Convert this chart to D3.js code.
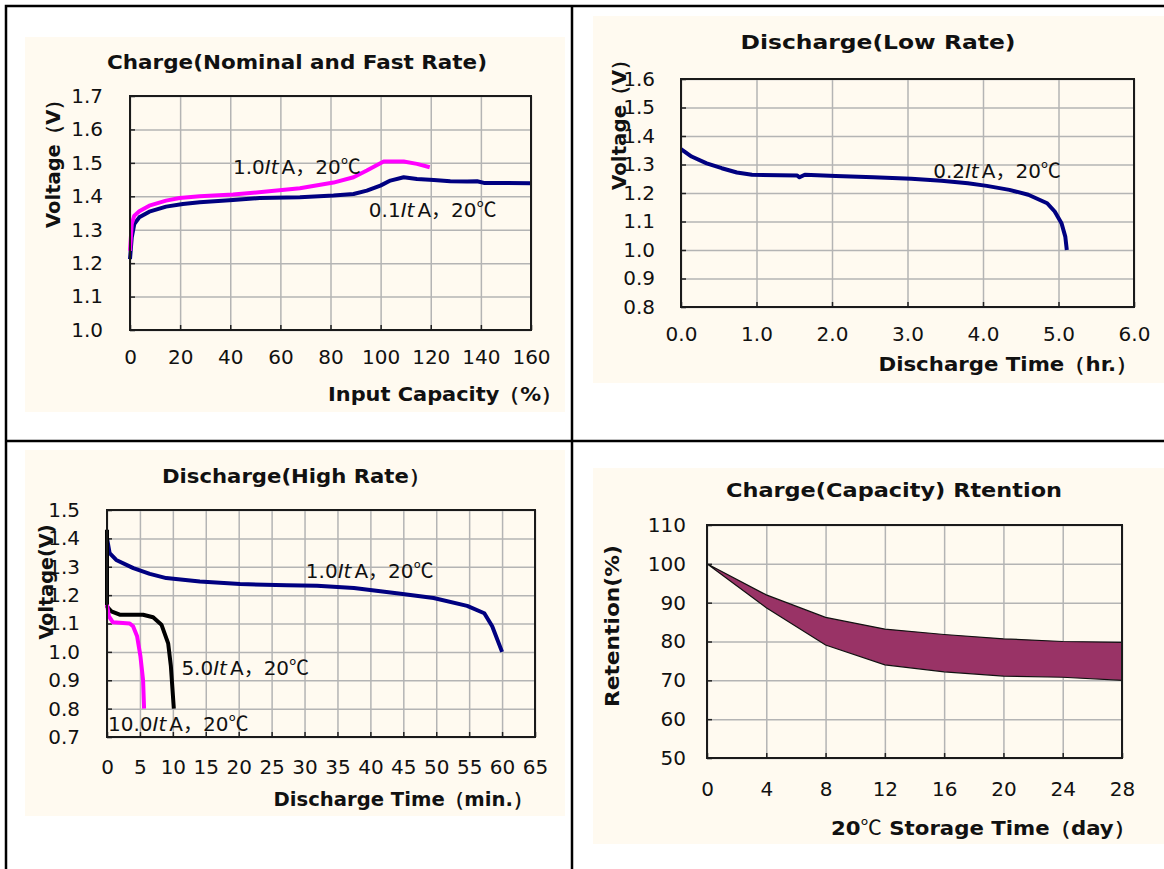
<!DOCTYPE html>
<html>
<head>
<meta charset="utf-8">
<script src="https://cdn.jsdelivr.net/npm/d3@7"></script>
<style>
body { margin: 0; background: #fff; }
text { font-family: Verdana, "DejaVu Sans", sans-serif; fill: #111; }
</style>
</head>
<body>
<div id="sheet"></div>
<script>
// ---- values ----

// Charge (Nominal and Fast Rate): input capacity (%) -> voltage (V)
const fastChargeCap  = [0, 0.7, 1.7, 3.7, 7.7, 14.4, 19.8, 27.8, 41.1, 54.5, 67.8, 81.2, 89.2, 94.5, 99.9, 101.2, 109.2, 114.5, 119.6];
const fastChargeVolt = [1.237, 1.317, 1.342, 1.355, 1.372, 1.387, 1.395, 1.400, 1.405, 1.414, 1.424, 1.441, 1.457, 1.477, 1.499, 1.504, 1.504, 1.497, 1.487];
const slowChargeCap  = [0, 0.7, 1.7, 3.7, 7.7, 14.4, 21.1, 27.8, 41.1, 51.8, 67.8, 81.2, 89.2, 94.5, 99.9, 103.9, 109.2, 114.5, 121.2, 127.8, 134.5, 138.5, 141.2, 160];
const slowChargeVolt = [1.212, 1.277, 1.317, 1.337, 1.354, 1.369, 1.377, 1.382, 1.389, 1.395, 1.397, 1.402, 1.407, 1.417, 1.432, 1.447, 1.457, 1.452, 1.449, 1.445, 1.444, 1.445, 1.440, 1.439];
const chargeXTicks = [0, 20, 40, 60, 80, 100, 120, 140, 160];
const chargeYTicks = [1.0, 1.1, 1.2, 1.3, 1.4, 1.5, 1.6, 1.7];

// Discharge (Low Rate): hours -> voltage
const lowRateHours = [0, 0.14, 0.34, 0.54, 0.74, 0.94, 1.54, 1.57, 1.64, 2.05, 2.55, 3.05, 3.45, 3.8, 4.05, 4.35, 4.6, 4.85, 4.95, 5.04, 5.09, 5.11];
const lowRateVolt  = [1.354, 1.328, 1.304, 1.287, 1.272, 1.264, 1.261, 1.255, 1.264, 1.260, 1.255, 1.250, 1.243, 1.234, 1.225, 1.211, 1.194, 1.164, 1.135, 1.094, 1.047, 1.0];
const lowXTicks = [0, 1, 2, 3, 4, 5, 6];
const lowYTicks = [0.8, 0.9, 1.0, 1.1, 1.2, 1.3, 1.4, 1.5, 1.6];

// Discharge (High Rate): minutes -> voltage
const rate1Min   = [0, 0.4, 1.4, 4, 6.5, 9, 14.1, 20.2, 27.3, 31.9, 37.5, 44.6, 49.6, 54.7, 57.3, 58.5, 60];
const rate1Volt  = [1.40, 1.348, 1.324, 1.295, 1.275, 1.26, 1.248, 1.239, 1.235, 1.233, 1.225, 1.205, 1.19, 1.162, 1.136, 1.09, 1.0];
const rate5Min   = [0, 0, 0.66, 1.93, 5.48, 7.0, 8.27, 9.29, 9.7, 10.15];
const rate5Volt  = [1.43, 1.16, 1.143, 1.131, 1.131, 1.122, 1.096, 1.03, 0.95, 0.80];
const rate10Min  = [0, 0.3, 0.9, 3.45, 3.96, 4.57, 5.08, 5.48, 5.63];
const rate10Volt = [1.166, 1.125, 1.104, 1.10, 1.09, 1.055, 0.984, 0.90, 0.80];
const highXTicks = [0, 5, 10, 15, 20, 25, 30, 35, 40, 45, 50, 55, 60, 65];
const highYTicks = [0.7, 0.8, 0.9, 1.0, 1.1, 1.2, 1.3, 1.4, 1.5];

// Charge (Capacity) Retention: days -> % (upper / lower bound of band)
const storageDays    = [0, 4, 8, 12, 16, 20, 24, 28];
const retentionUpper = [100, 92, 86.2, 83.2, 81.8, 80.7, 80, 79.8];
const retentionLower = [100, 88.7, 79.1, 74, 72.2, 71.1, 70.8, 70];
const retXTicks = [0, 4, 8, 12, 16, 20, 24, 28];
const retYTicks = [50, 60, 70, 80, 90, 100, 110];

const bgColor = "#FFFAF0";
const gridColor = "#b4b4b4";
const tickFont = 20;
const cjkFont = "'Noto Sans CJK JP', 'Noto Sans CJK SC', sans-serif";

const svg = d3.select("#sheet").append("svg")
    .attr("width", 1164)
    .attr("height", 869);

svg.append("rect").attr("width", 1164).attr("height", 869).attr("fill", "#fff");

// put the full-width comma / ℃ in a CJK font like the original sheet
function fillText(el, str, weight) {
    str.split(/([，℃])/).filter(s => s.length).forEach(function(s) {
        const ts = el.append("tspan").text(s);
        if (/[，℃]/.test(s)) ts.attr("font-family", cjkFont).attr("font-weight", "normal");
        else if (weight) ts.attr("font-weight", weight);
    });
}

// bold heading squeezed/stretched to the width it has in the picture
function heading(t, cx, cy, len, rotate) {
    const el = svg.append("text")
        .attr("text-anchor", "middle")
        .attr("font-size", 20).attr("font-weight", "bold")
        .attr("textLength", len)
        .attr("lengthAdjust", "spacingAndGlyphs");
    if (t.indexOf("℃") >= 0) fillText(el, t, "bold");
    else el.text(t);
    if (rotate) {
        el.attr("transform", `translate(${cx}, ${cy}) rotate(-90)`).attr("dy", "0.36em");
    } else {
        el.attr("x", cx).attr("y", cy);
    }
}

// draws one framed chart, returns its scales + group
function drawPanel(p) {
    svg.append("rect")
        .attr("x", p.bg[0]).attr("y", p.bg[1])
        .attr("width", p.bg[2] - p.bg[0]).attr("height", p.bg[3] - p.bg[1])
        .attr("fill", bgColor);

    const x = d3.scaleLinear().domain(p.xDomain).range([p.plot[0], p.plot[2]]);
    const y = d3.scaleLinear().domain(p.yDomain).range([p.plot[3], p.plot[1]]);
    const w = p.plot[2] - p.plot[0], h = p.plot[3] - p.plot[1];

    // grid
    svg.append("g")
        .attr("transform", `translate(0, ${p.plot[3]})`)
        .call(d3.axisBottom(x).tickValues(p.xTicks).tickSize(-h).tickFormat(""))
        .call(g => g.select(".domain").remove())
        .call(g => g.selectAll("line").attr("stroke", gridColor).attr("stroke-width", 1.5));
    svg.append("g")
        .attr("transform", `translate(${p.plot[0]}, 0)`)
        .call(d3.axisLeft(y).tickValues(p.yTicks).tickSize(-w).tickFormat(""))
        .call(g => g.select(".domain").remove())
        .call(g => g.selectAll("line").attr("stroke", gridColor).attr("stroke-width", 1.5));

    // ticks + labels (ticks point inside, excel style)
    svg.append("g")
        .attr("transform", `translate(0, ${p.plot[3]})`)
        .call(d3.axisBottom(x).tickValues(p.xTicks).tickSize(-5).tickPadding(p.xPad).tickFormat(p.xFmt))
        .call(g => g.select(".domain").remove())
        .call(g => g.selectAll("line").attr("stroke", "#222").attr("stroke-width", 1.5))
        .call(g => g.selectAll("text").attr("font-size", tickFont).attr("font-family", "Verdana, 'DejaVu Sans', sans-serif").attr("fill", "#111"));
    svg.append("g")
        .attr("transform", `translate(${p.plot[0]}, 0)`)
        .call(d3.axisLeft(y).tickValues(p.yTicks).tickSize(-5).tickPadding(p.yPad).tickFormat(p.yFmt))
        .call(g => g.select(".domain").remove())
        .call(g => g.selectAll("line").attr("stroke", "#222").attr("stroke-width", 1.5))
        .call(g => g.selectAll("text").attr("font-size", tickFont).attr("font-family", "Verdana, 'DejaVu Sans', sans-serif").attr("fill", "#111"));

    const marks = svg.append("g");

    svg.append("rect")
        .attr("x", p.plot[0]).attr("y", p.plot[1])
        .attr("width", w).attr("height", h)
        .attr("fill", "none").attr("stroke", "#1a1a1a").attr("stroke-width", 2);

    // title and axis titles: [text, centre x, y, width]
    heading(p.title[0], p.title[1], p.title[2], p.title[3], false);
    heading(p.xTitle[0], p.xTitle[1], p.xTitle[2], p.xTitle[3], false);
    heading(p.yTitle[0], p.yTitle[1], p.yTitle[2], p.yTitle[3], true);

    return {x: x, y: y, g: marks};
}

function drawLine(panel, xs, ys, color) {
    const line = d3.line()
        .x(d => panel.x(d[0]))
        .y(d => panel.y(d[1]));
    panel.g.append("path")
        .datum(d3.zip(xs, ys))
        .attr("d", line)
        .attr("fill", "none")
        .attr("stroke", color)
        .attr("stroke-width", 4)
        .attr("stroke-linejoin", "round");
}

// "1.0ItA，20℃" style label, anchored in data units
function rateLabel(panel, rate, xv, yv) {
    const t = svg.append("text")
        .attr("x", panel.x(xv)).attr("y", panel.y(yv))
        .attr("font-size", 20);
    t.append("tspan").text(rate);
    t.append("tspan").attr("font-style", "italic").text("It");
    t.append("tspan").attr("dx", 3).text("A");
    fillText(t, "，20℃");
}

const fmt1 = d3.format(".1f");

// top left
const p1 = drawPanel({
    bg: [25, 37, 565, 412], plot: [130, 96, 531, 330],
    xDomain: [0, 160], yDomain: [1.0, 1.7],
    xTicks: chargeXTicks, yTicks: chargeYTicks,
    xFmt: d3.format("d"), yFmt: fmt1, xPad: 20, yPad: 27,
    title: ["Charge(Nominal and Fast Rate)", 297, 69, 380],
    xTitle: ["Input Capacity（%）", 445, 401, 234],
    yTitle: ["Voltage（V）", 53, 159, 138]
});
drawLine(p1, slowChargeCap, slowChargeVolt, "#000080");
drawLine(p1, fastChargeCap, fastChargeVolt, "#ff00ff");
rateLabel(p1, "1.0", 41.1, 1.467);
rateLabel(p1, "0.1", 95.3, 1.339);

// top right
const p2 = drawPanel({
    bg: [593, 16, 1164, 383], plot: [681, 79, 1134, 307],
    xDomain: [0, 6], yDomain: [0.8, 1.6],
    xTicks: lowXTicks, yTicks: lowYTicks,
    xFmt: fmt1, yFmt: fmt1, xPad: 20, yPad: 26,
    title: ["Discharge(Low Rate)", 878, 49, 275],
    xTitle: ["Discharge Time（hr.）", 1008, 371, 259],
    yTitle: ["Voltage（V）", 619, 120, 140]
});
drawLine(p2, lowRateHours, lowRateVolt, "#000080");
rateLabel(p2, "0.2", 3.34, 1.252);

// bottom left
const p3 = drawPanel({
    bg: [25, 450, 565, 816], plot: [107, 510, 535, 737],
    xDomain: [0, 65], yDomain: [0.7, 1.5],
    xTicks: highXTicks, yTicks: highYTicks,
    xFmt: d3.format("d"), yFmt: fmt1, xPad: 23, yPad: 27,
    title: ["Discharge(High Rate）", 296, 483, 268],
    xTitle: ["Discharge Time（min.）", 403, 806, 259],
    yTitle: ["Voltage(V)", 46, 582, 115]
});
drawLine(p3, rate1Min, rate1Volt, "#000080");
drawLine(p3, rate5Min, rate5Volt, "#000000");
drawLine(p3, rate10Min, rate10Volt, "#ff00ff");
rateLabel(p3, "1.0", 30.2, 1.26);
rateLabel(p3, "5.0", 11.3, 0.92);
rateLabel(p3, "10.0", 0.15, 0.72);

// bottom right
const p4 = drawPanel({
    bg: [593, 468, 1164, 844], plot: [707, 525, 1122, 758],
    xDomain: [0, 28], yDomain: [50, 110],
    xTicks: retXTicks, yTicks: retYTicks,
    xFmt: d3.format("d"), yFmt: d3.format("d"), xPad: 24, yPad: 21,
    title: ["Charge(Capacity) Rtention", 894, 497, 336],
    xTitle: ["20℃ Storage Time（day）", 983, 835, 304],
    yTitle: ["Retention(%)", 612, 626, 162]
});
const band = d3.area()
    .x(d => p4.x(d[0]))
    .y0(d => p4.y(d[1]))
    .y1(d => p4.y(d[2]));
p4.g.append("path")
    .datum(d3.zip(storageDays, retentionLower, retentionUpper))
    .attr("d", band)
    .attr("fill", "#993366")
    .attr("stroke", "#111")
    .attr("stroke-width", 1.2);

// outer sheet frame with the cross dividers
svg.append("rect")
    .attr("x", 6).attr("y", 6).attr("width", 1170).attr("height", 880)
    .attr("fill", "none").attr("stroke", "#000").attr("stroke-width", 2.5);
svg.append("line").attr("x1", 572).attr("x2", 572).attr("y1", 6).attr("y2", 869)
    .attr("stroke", "#000").attr("stroke-width", 2.5);
svg.append("line").attr("x1", 6).attr("x2", 1164).attr("y1", 441).attr("y2", 441)
    .attr("stroke", "#000").attr("stroke-width", 2.5);
</script>
</body>
</html>
